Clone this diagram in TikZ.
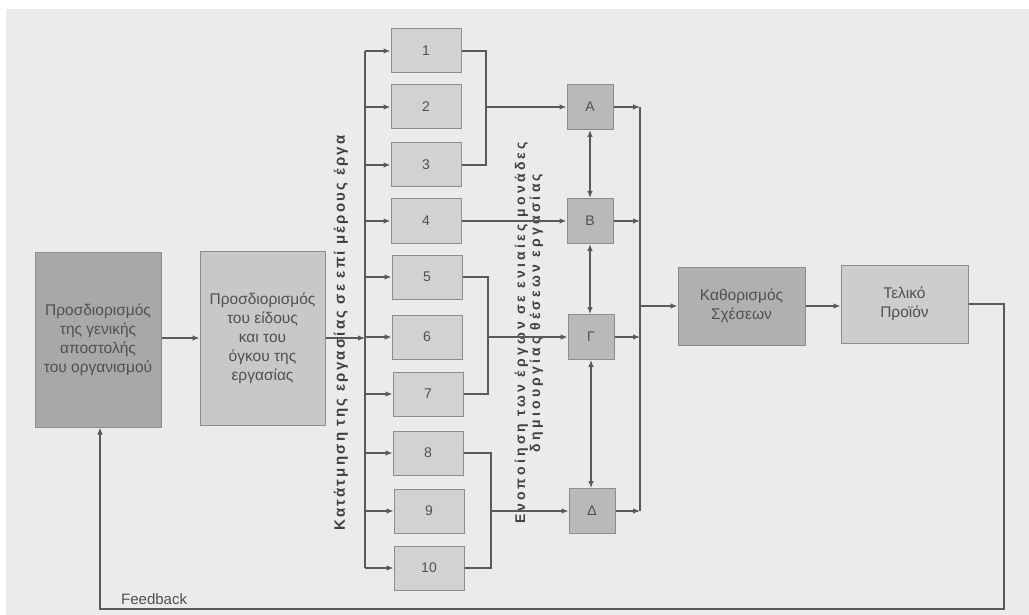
\documentclass[tikz,border=0pt]{standalone}
\usepackage{fontspec}
\setmainfont{Liberation Sans}
\usetikzlibrary{arrows.meta,calc}
\definecolor{bgc}{HTML}{EBEBEB}
\definecolor{linec}{HTML}{5A5A5A}
\definecolor{edgec}{HTML}{8C8C8C}
\definecolor{txtc}{HTML}{505050}
\definecolor{labc}{HTML}{404040}
\definecolor{fillA}{HTML}{A8A8A8}
\definecolor{fillB}{HTML}{C8C8C8}
\definecolor{fillS}{HTML}{D2D2D2}
\definecolor{fillL}{HTML}{B9B9B9}
\definecolor{fillK}{HTML}{B0B0B0}
\definecolor{fillT}{HTML}{CDCDCD}
\tikzset{
  boxbase/.style={draw=edgec, line width=1pt, text=txtc, align=center, inner sep=2pt},
  bigbox/.style={boxbase, font=\fontsize{15.5}{19}\selectfont},
  smallbox/.style={boxbase, fill=fillS, minimum width=70pt, minimum height=44pt, font=\fontsize{14}{16}\selectfont},
  letterbox/.style={boxbase, fill=fillL, minimum width=46pt, minimum height=45pt, font=\fontsize{14}{16}\selectfont},
  conn/.style={draw=linec, line width=1.2pt},
  arr/.style={conn, -{Latex[length=7pt,width=5.5pt]}},
  darr/.style={conn, {Latex[length=7pt,width=5.5pt]}-{Latex[length=7pt,width=5.5pt]}},
  rotlab/.style={rotate=90, text=labc, align=center, inner sep=0pt}
}
\begin{document}
\begin{tikzpicture}[x=1pt,y=-1pt]
\useasboundingbox (0,0) rectangle (1029,615);
\fill[white] (0,0) rectangle (1029,615);
\fill[bgc] (6,9) rectangle (1029,615);

% main boxes
\node[bigbox, fill=fillA, minimum width=126pt, minimum height=175pt] (m1) at (98,339.5)
  {Προσδιορισμός\\της γενικής\\αποστολής\\του οργανισμού};
\node[bigbox, fill=fillB, minimum width=125pt, minimum height=174pt] (m2) at (262.5,338)
  {Προσδιορισμός\\του είδους\\και του\\όγκου της\\εργασίας};

% small task boxes
\node[smallbox] (t1) at (426,51) {1};
\node[smallbox] (t2) at (426,107) {2};
\node[smallbox] (t3) at (426,165) {3};
\node[smallbox] (t4) at (426,221) {4};
\node[smallbox] (t5) at (427,277) {5};
\node[smallbox] (t6) at (427,337) {6};
\node[smallbox] (t7) at (428,394) {7};
\node[smallbox] (t8) at (428,453) {8};
\node[smallbox] (t9) at (429,511) {9};
\node[smallbox] (t10) at (429,568) {10};

% unit boxes
\node[letterbox] (A) at (590,107) {Α};
\node[letterbox] (B) at (590,221) {Β};
\node[letterbox] (G) at (591,337) {Γ};
\node[letterbox] (D) at (592,511) {Δ};

\node[bigbox, fill=fillK, minimum width=127pt, minimum height=78pt] (K) at (741.5,306)
  {Καθορισμός\\Σχέσεων};
\node[bigbox, fill=fillT, minimum width=127pt, minimum height=78pt] (T) at (904.5,304)
  {Τελικό\\Προϊόν};

% rotated labels
\node[rotlab, font=\bfseries\fontsize{15}{16}\selectfont\addfontfeature{LetterSpace=15}] (lab1) at (341,333)
  {Κατάτμηση της εργασίας σε επί μέρους έργα};
\node[rotlab, font=\bfseries\fontsize{14}{15}\selectfont\addfontfeature{LetterSpace=23}] (lab2) at (529,333)
  {Ενοποίηση των έργων σε ενιαίες μονάδες\\\hspace*{40pt}δημιουργίας θέσεων εργασίας};

\node[anchor=west, text=txtc, font=\fontsize{15}{17}\selectfont, inner sep=0pt] (fb) at (121,599) {Feedback};

% coordinates
\coordinate (bus) at (365,0);
\coordinate (br1) at (486,0);
\coordinate (br2) at (488,0);
\coordinate (br3) at (491,0);
\coordinate (col) at (640,0);
\coordinate (fbR) at (1004,609);
\coordinate (fbL) at (100,609);

% connectors
\draw[arr] (m1.east |- m2.east) -- (m2.east -| m2.west);
\draw[arr] (m2.east) -- (bus |- m2.east);
\draw[conn] (bus |- t1.west) -- (bus |- t10.west);
\foreach \i in {1,...,10} { \draw[arr] (bus |- t\i.west) -- (t\i.west); }

\draw[conn] (t1.east) -- (br1 |- t1.east) -- (br1 |- t3.east) -- (t3.east);
\draw[arr] (br1 |- t2.east) -- (A.west);
\draw[arr] (t4.east) -- (B.west);
\draw[conn] (t5.east) -- (br2 |- t5.east) -- (br2 |- t7.east) -- (t7.east);
\draw[arr] (br2 |- G.west) -- (G.west);
\draw[conn] (t8.east) -- (br3 |- t8.east) -- (br3 |- t10.east) -- (t10.east);
\draw[arr] (br3 |- D.west) -- (D.west);

\draw[darr] (A.south) -- (B.north);
\draw[darr] (B.south) -- (B.south |- G.north);
\draw[darr] (G.south) -- (G.south |- D.north);

\draw[arr] (A.east) -- (col |- A.east);
\draw[arr] (B.east) -- (col |- B.east);
\draw[arr] (G.east) -- (col |- G.east);
\draw[arr] (D.east) -- (col |- D.east);
\draw[conn] (col |- A.east) -- (col |- D.east);
\draw[arr] (col |- K.west) -- (K.west);
\draw[arr] (K.east) -- (K.east -| T.west);

\draw[arr] (T.east) -| (fbR) -- (fbL) -- (fbL |- m1.south);
\end{tikzpicture}
\end{document}
